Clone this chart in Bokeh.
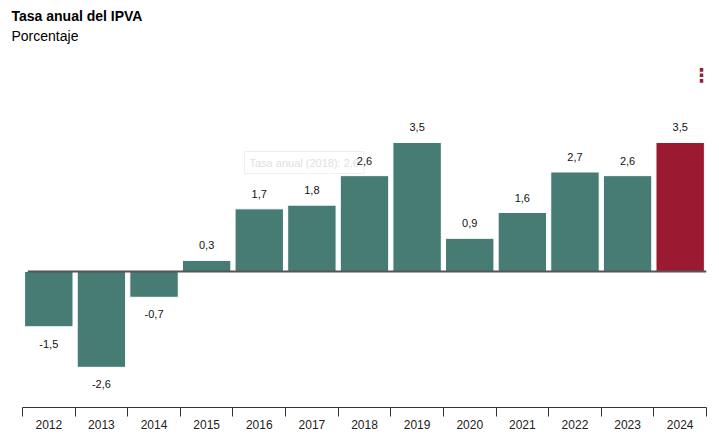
from bokeh.plotting import figure
from bokeh.models import ColumnDataSource, Range1d, FixedTicker, Label
from bokeh.embed import file_html
from bokeh.resources import INLINE
from bokeh.core.properties import value

years = ["2012", "2013", "2014", "2015", "2016", "2017", "2018",
         "2019", "2020", "2021", "2022", "2023", "2024"]
rates = [-1.5, -2.6, -0.7, 0.3, 1.7, 1.8, 2.6, 3.5, 0.9, 1.6, 2.7, 2.6, 3.5]
title_text = "Tasa anual del IPVA"
subtitle_text = "Porcentaje"
tooltip_text = "Tasa anual (2018): 2,6"

TEAL = "#467c74"
RED = "#9b1a31"
FONT = "Liberation Sans"
FB = 407  # frame bottom in canvas px
n = len(years)

xs = [i + 0.5 for i in range(n)]
colors = [TEAL] * (n - 1) + [RED]
labels = [f"{v:.1f}".replace(".", ",") for v in rates]
src = ColumnDataSource(dict(x=xs, top=rates, color=colors, label=labels))

p = figure(width=719, height=446, output_backend="svg", toolbar_location=None,
           x_range=Range1d(-0.418, n), y_range=Range1d(-3.690, 7.352),
           y_axis_location=None, min_border_left=0, min_border_right=13,
           min_border_top=0, min_border_bottom=39)
p.outline_line_color = None
p.grid.visible = False
p.background_fill_color = "white"
p.border_fill_color = "white"

# faded tooltip (drawn beneath glyphs)
p.add_layout(Label(x=244, y=FB - 173, x_units="screen", y_units="screen",
                   text=tooltip_text, text_font=FONT, text_font_size="11px",
                   text_color="#e0e0e0", background_fill_color="white",
                   border_line_color="#efefef", padding=5, level="underlay"))

p.vbar(x="x", top="top", bottom=0, width=0.92, color="color", line_color="white",
       line_width=1, source=src)

p.segment(x0=[0.1], x1=[n], y0=[0], y1=[0], line_color="#555555", line_width=2)

pos_src = ColumnDataSource(dict(x=[x for x, v in zip(xs, rates) if v >= 0],
                                y=[v for v in rates if v >= 0],
                                t=[l for l, v in zip(labels, rates) if v >= 0]))
neg_src = ColumnDataSource(dict(x=[x for x, v in zip(xs, rates) if v < 0],
                                y=[v for v in rates if v < 0],
                                t=[l for l, v in zip(labels, rates) if v < 0]))
p.text(x="x", y="y", text="t", source=pos_src, text_align="center",
       text_baseline="middle", y_offset=-15, text_font=value(FONT),
       text_font_size="11px", text_color="#111111")
p.text(x="x", y="y", text="t", source=neg_src, text_align="center",
       text_baseline="middle", y_offset=17, text_font=value(FONT),
       text_font_size="11px", text_color="#111111")

ax = p.xaxis[0]
ax.bounds = (0, n)
ax.ticker = FixedTicker(ticks=xs, minor_ticks=list(range(n + 1)))
ax.major_label_overrides = {x: y for x, y in zip(xs, years)}
ax.major_tick_out = 0
ax.major_tick_in = 0
ax.minor_tick_out = 9
ax.minor_tick_in = 0
ax.minor_tick_line_color = "#333333"
ax.axis_line_color = "#333333"
ax.major_label_standoff = 3
ax.major_label_text_font = FONT
ax.major_label_text_font_size = "12px"
ax.major_label_text_color = "#222222"

p.add_layout(Label(x=11, y=FB - 23, x_units="screen", y_units="screen",
                   text=title_text, text_font=FONT, text_font_size="14px",
                   text_font_style="bold", text_color="#000000"))
p.add_layout(Label(x=11, y=FB - 43, x_units="screen", y_units="screen",
                   text=subtitle_text, text_font=FONT, text_font_size="14px",
                   text_color="#000000"))
p.add_layout(Label(x=701, y=FB - 74, x_units="screen", y_units="screen",
                   text="\u22ee", text_font="DejaVu Sans", text_font_size="19px",
                   text_font_style="bold", text_align="center", text_baseline="middle",
                   text_color=RED))

open("out.html", "w").write(file_html(p, INLINE))
